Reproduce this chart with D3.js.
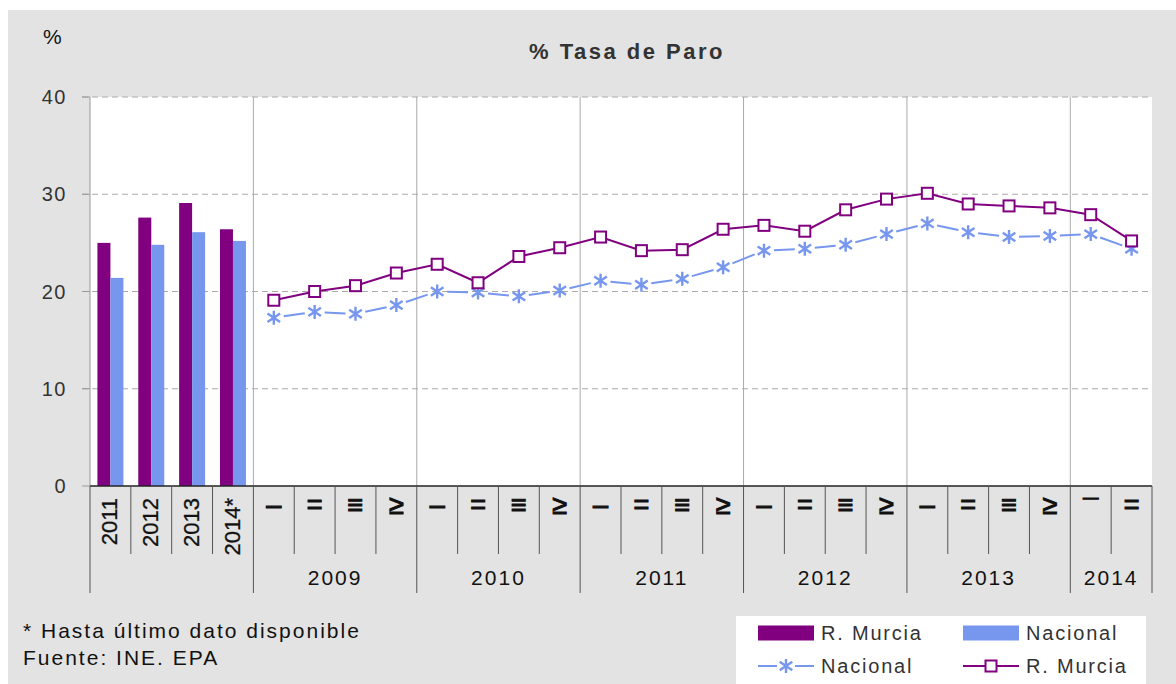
<!DOCTYPE html>
<html>
<head>
<meta charset="utf-8">
<script src="https://cdn.jsdelivr.net/npm/d3@7"></script>
<style>
  html, body { margin: 0; padding: 0; background: #fff; }
  svg { display: block; font-family: "Liberation Sans", Arial, sans-serif; }
</style>
</head>
<body>
<div id="chart"></div>
<script>
///
/// Data
///
var annualLabels   = ["2011", "2012", "2013", "2014*"];
var annualMurcia   = [25.0, 27.6, 29.1, 26.4];
var annualNacional = [21.4, 24.8, 26.1, 25.2];

var years           = ["2009", "2010", "2011", "2012", "2013", "2014"];
var quartersPerYear = [4, 4, 4, 4, 4, 2];
var quarterGlyphs   = ["–", "=", "≡", "≥"];
var quarterGlyphs14 = ["¯", "="];

var murciaQ   = [19.1, 20.0, 20.6, 21.9, 22.8, 20.9, 23.6, 24.5, 25.6, 24.2, 24.3, 26.4,
                 26.8, 26.2, 28.4, 29.5, 30.1, 29.0, 28.8, 28.6, 27.9, 25.2];
var nacionalQ = [17.3, 17.9, 17.7, 18.6, 20.0, 19.9, 19.5, 20.1, 21.1, 20.7, 21.3, 22.5,
                 24.2, 24.4, 24.8, 25.9, 27.0, 26.1, 25.6, 25.7, 25.9, 24.4];

var yTicks = [0, 10, 20, 30, 40];

var cMurcia = "#800080", cNacional = "#7797ef";

///
/// Setup
///
var W = 1176, H = 684;
var pLeft = 90, pRight = 1152, pTop = 97, pBottom = 486;

var svg = d3.select("#chart").append("svg").attr("width", W).attr("height", H);

svg.append("rect").attr("x", 8).attr("y", 10).attr("width", W - 8).attr("height", H - 10)
  .attr("fill", "#e3e3e3");
svg.append("rect").attr("x", pLeft).attr("y", pTop).attr("width", pRight - pLeft).attr("height", pBottom - pTop)
  .attr("fill", "#fff");

// quarter labels, one per quarter
var qLabels = [];
years.forEach(function(yr, i) {
  for (var q = 0; q < quartersPerYear[i]; q++)
    qLabels.push(yr === "2014" ? quarterGlyphs14[q] : quarterGlyphs[q]);
});

var nCat = annualLabels.length + qLabels.length;
var x = d3.scaleBand().domain(d3.range(nCat)).range([pLeft, pRight]).padding(0);
var y = d3.scaleLinear().domain([0, 40]).range([pBottom, pTop]);
var bw = 13;
var xc = function(i) { return x(i) + x.bandwidth() / 2; };

// group boundaries (annual block, then each year)
var bounds = [0, annualLabels.length];
var acc = annualLabels.length;
quartersPerYear.forEach(function(n) { acc += n; bounds.push(acc); });
var bx = function(i) { return i >= nCat ? pRight : x(i); };

///
/// Grid
///
svg.append("g").selectAll("line").data(yTicks.filter(function(d) { return d > 0; }))
  .join("line")
  .attr("x1", pLeft - 8).attr("x2", pRight)
  .attr("y1", function(d) { return y(d); }).attr("y2", function(d) { return y(d); })
  .attr("stroke", "#aaa").attr("stroke-dasharray", "6,4");

svg.append("g").selectAll("line").data(bounds.slice(1, -1))
  .join("line")
  .attr("x1", function(d) { return bx(d); }).attr("x2", function(d) { return bx(d); })
  .attr("y1", pTop).attr("y2", pBottom)
  .attr("stroke", "#aaa");

svg.append("line").attr("x1", pLeft).attr("x2", pLeft).attr("y1", pTop).attr("y2", pBottom)
  .attr("stroke", "#999");
svg.append("g").selectAll("line").data(yTicks).join("line")
  .attr("x1", pLeft - 8).attr("x2", pLeft)
  .attr("y1", function(d) { return y(d); }).attr("y2", function(d) { return y(d); })
  .attr("stroke", "#999");

svg.append("g").selectAll("text").data(yTicks).join("text")
  .attr("x", 67).attr("y", function(d) { return y(d) + 7; })
  .attr("text-anchor", "end").attr("font-size", 20).attr("letter-spacing", 1.5)
  .attr("fill", "#333").text(function(d) { return d; });

///
/// Bars
///
var barG = svg.append("g");
annualLabels.forEach(function(lab, i) {
  barG.append("rect").attr("x", xc(i) - bw).attr("width", bw)
    .attr("y", y(annualMurcia[i])).attr("height", y(0) - y(annualMurcia[i]))
    .attr("fill", cMurcia);
  barG.append("rect").attr("x", xc(i)).attr("width", bw)
    .attr("y", y(annualNacional[i])).attr("height", y(0) - y(annualNacional[i]))
    .attr("fill", cNacional);
});

///
/// Lines
///
var off = annualLabels.length;
var ptsN = nacionalQ.map(function(v, i) { return [xc(i + off), y(v)]; });
var ptsM = murciaQ.map(function(v, i) { return [xc(i + off), y(v)]; });

// nacional line: segments stop short of the star markers
var gap = 10;
var segs = d3.pairs(ptsN).map(function(p) {
  var dx = p[1][0] - p[0][0], dy = p[1][1] - p[0][1], L = Math.sqrt(dx * dx + dy * dy);
  var ux = dx / L, uy = dy / L;
  return [p[0][0] + ux * gap, p[0][1] + uy * gap, p[1][0] - ux * gap, p[1][1] - uy * gap];
});
svg.append("g").selectAll("line").data(segs).join("line")
  .attr("x1", function(d) { return d[0]; }).attr("y1", function(d) { return d[1]; })
  .attr("x2", function(d) { return d[2]; }).attr("y2", function(d) { return d[3]; })
  .attr("stroke", cNacional).attr("stroke-width", 2);

function star(g, px, py) {
  var r = 7;
  g.append("path")
    .attr("d", "M" + px + "," + (py - r) + "V" + (py + r) +
      "M" + (px - r * 0.9) + "," + (py - r * 0.6) + "L" + (px + r * 0.9) + "," + (py + r * 0.6) +
      "M" + (px - r * 0.9) + "," + (py + r * 0.6) + "L" + (px + r * 0.9) + "," + (py - r * 0.6))
    .attr("stroke", cNacional).attr("stroke-width", 2.4).attr("fill", "none");
}
var starG = svg.append("g");
ptsN.forEach(function(p) { star(starG, p[0], p[1]); });

svg.append("path").datum(ptsM)
  .attr("d", d3.line())
  .attr("fill", "none").attr("stroke", cMurcia).attr("stroke-width", 2);
svg.append("g").selectAll("rect").data(ptsM).join("rect")
  .attr("x", function(d) { return d[0] - 5.5; }).attr("y", function(d) { return d[1] - 5.5; })
  .attr("width", 11).attr("height", 11)
  .attr("fill", "#fff").attr("stroke", cMurcia).attr("stroke-width", 2);

///
/// X axis
///
svg.append("line").attr("x1", pLeft).attr("x2", pRight).attr("y1", pBottom).attr("y2", pBottom)
  .attr("stroke", "#222").attr("stroke-width", 1.5);

var smallTicks = d3.range(1, nCat).filter(function(i) { return bounds.indexOf(i) < 0; });
svg.append("g").selectAll("line").data(smallTicks).join("line")
  .attr("x1", function(d) { return x(d); }).attr("x2", function(d) { return x(d); })
  .attr("y1", pBottom).attr("y2", 554)
  .attr("stroke", "#555");
svg.append("g").selectAll("line").data(bounds).join("line")
  .attr("x1", function(d) { return bx(d); }).attr("x2", function(d) { return bx(d); })
  .attr("y1", pBottom).attr("y2", 593)
  .attr("stroke", "#555");

svg.append("g").selectAll("text").data(annualLabels).join("text")
  .attr("transform", function(d, i) { return "translate(" + (xc(i) + 7) + ",498) rotate(-90)"; })
  .attr("text-anchor", "end").attr("font-size", 22)
  .attr("fill", "#111").attr("stroke", "#111").attr("stroke-width", 0.3)
  .text(function(d) { return d; });

svg.append("g").selectAll("text").data(qLabels).join("text")
  .attr("x", function(d, i) { return xc(i + off); })
  .attr("y", function(d) { return d === "¯" ? 519 : 514; })
  .attr("text-anchor", "middle").attr("font-size", 27)
  .attr("fill", "#111").attr("stroke", "#111").attr("stroke-width", 1.1)
  .text(function(d) { return d; });

svg.append("g").selectAll("text").data(years).join("text")
  .attr("x", function(d, i) { return (bx(bounds[i + 1]) + bx(bounds[i + 2])) / 2; })
  .attr("y", 585)
  .attr("text-anchor", "middle").attr("font-size", 21).attr("letter-spacing", 2)
  .attr("fill", "#111").text(function(d) { return d; });

///
/// Titles, notes
///
svg.append("text").attr("x", 43).attr("y", 44).attr("font-size", 21).attr("fill", "#111").text("%");
svg.append("text").attr("x", 627).attr("y", 59).attr("text-anchor", "middle")
  .attr("font-size", 22).attr("font-weight", "bold").attr("letter-spacing", 2.5)
  .attr("fill", "#333").text("% Tasa de Paro");

svg.append("text").attr("x", 23).attr("y", 638).attr("font-size", 21).attr("letter-spacing", 2)
  .attr("fill", "#111").text("* Hasta último dato disponible");
svg.append("text").attr("x", 23).attr("y", 665).attr("font-size", 21).attr("letter-spacing", 2)
  .attr("fill", "#111").text("Fuente: INE. EPA");

///
/// Legend
///
var lg = svg.append("g");
lg.append("rect").attr("x", 736).attr("y", 616).attr("width", 410).attr("height", 68).attr("fill", "#fff");
var legendItems = [
  { type: "bar",  color: cMurcia,   label: "R. Murcia", x: 758, y: 633 },
  { type: "bar",  color: cNacional, label: "Nacional",  x: 963, y: 633 },
  { type: "star", color: cNacional, label: "Nacional",  x: 758, y: 666 },
  { type: "sq",   color: cMurcia,   label: "R. Murcia", x: 963, y: 666 }
];
legendItems.forEach(function(d) {
  if (d.type === "bar") {
    lg.append("rect").attr("x", d.x).attr("y", d.y - 7.5).attr("width", 56).attr("height", 15).attr("fill", d.color);
  } else if (d.type === "star") {
    lg.append("line").attr("x1", d.x).attr("x2", d.x + 19).attr("y1", d.y).attr("y2", d.y).attr("stroke", d.color).attr("stroke-width", 2);
    lg.append("line").attr("x1", d.x + 37).attr("x2", d.x + 56).attr("y1", d.y).attr("y2", d.y).attr("stroke", d.color).attr("stroke-width", 2);
    star(lg, d.x + 28, d.y);
  } else {
    lg.append("line").attr("x1", d.x).attr("x2", d.x + 56).attr("y1", d.y).attr("y2", d.y).attr("stroke", d.color).attr("stroke-width", 2);
    lg.append("rect").attr("x", d.x + 22.5).attr("y", d.y - 5.5).attr("width", 11).attr("height", 11)
      .attr("fill", "#fff").attr("stroke", d.color).attr("stroke-width", 2);
  }
  lg.append("text").attr("x", d.x + 63).attr("y", d.y + 6.5).attr("font-size", 20).attr("letter-spacing", 1.8)
    .attr("fill", "#333").text(d.label);
});
</script>
</body>
</html>
